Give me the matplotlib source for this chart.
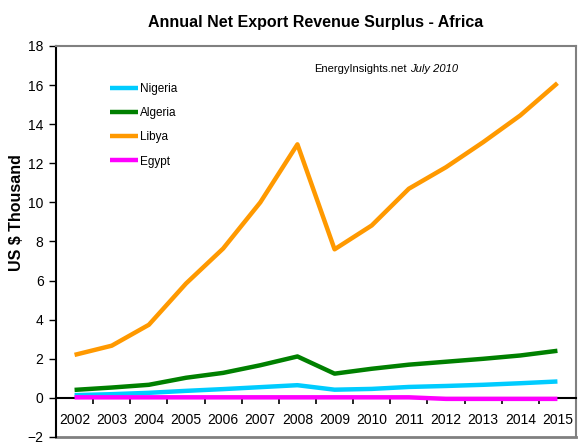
import matplotlib
matplotlib.use("Agg")
import matplotlib.pyplot as plt
import numpy as np

plt.rcParams['font.family'] = ['Liberation Sans', 'DejaVu Sans']

years = ["2002", "2003", "2004", "2005", "2006", "2007", "2008",
         "2009", "2010", "2011", "2012", "2013", "2014", "2015"]
nigeria = [0.14, 0.19, 0.26, 0.36, 0.45, 0.55, 0.65, 0.42, 0.46, 0.56, 0.61, 0.67, 0.75, 0.84]
algeria = [0.41, 0.53, 0.67, 1.03, 1.28, 1.67, 2.12, 1.24, 1.49, 1.70, 1.85, 2.00, 2.17, 2.41]
libya = [2.20, 2.67, 3.74, 5.85, 7.64, 10.0, 12.97, 7.60, 8.82, 10.7, 11.8, 13.08, 14.45, 16.1]
egypt = [0.03, 0.03, 0.03, 0.03, 0.03, 0.03, 0.03, 0.03, 0.03, 0.03, -0.05, -0.05, -0.05, -0.05]

series = [("Nigeria", nigeria, "#00CCFF"),
          ("Algeria", algeria, "#008000"),
          ("Libya", libya, "#FF9900"),
          ("Egypt", egypt, "#FF00FF")]

fig = plt.figure(figsize=(5.86, 4.47), dpi=100)
ax = fig.add_axes([56/586, 10/447, 520/586, 391/447])

x = np.arange(len(years))
for name, vals, col in series:
    ax.plot(x, vals, color=col, lw=3.2, solid_capstyle='butt', label=name, zorder=3)

ax.set_xlim(-0.5, len(years) - 0.5)
ax.set_ylim(-2, 18)
ax.set_yticks(np.arange(-2, 19, 2))
ax.tick_params(axis='y', direction='out', length=5, width=1, labelsize=10, pad=4, colors='black')

# x-axis at zero
ax.spines['bottom'].set_position(('data', 0))
ax.spines['bottom'].set_color('black')
ax.spines['bottom'].set_linewidth(1.5)
ax.spines['left'].set_color('black')
ax.spines['left'].set_linewidth(1.5)
for s in ['top', 'right']:
    ax.spines[s].set_color('#808080')
    ax.spines[s].set_linewidth(1.5)
ax.axhline(-2, color='#808080', lw=2, clip_on=False, zorder=1)

ax.set_xticks(np.arange(-0.5, len(years), 1.0))
ax.set_xticklabels([])
ax.tick_params(axis='x', which='major', direction='out', length=4, width=1.2)
ax.set_xticks(x, minor=True)
ax.set_xticklabels(years, minor=True)
ax.tick_params(axis='x', which='minor', length=0, labelsize=10, pad=11)

ax.set_title("Annual Net Export Revenue Surplus - Africa", fontsize=11.5, fontweight='bold', pad=14)
fig.text(17/586, 1 - 213/447, "US $ Thousand", rotation=90, fontsize=11.5, fontweight='bold',
         ha='center', va='center')

ax.legend(loc='upper left', bbox_to_anchor=(0.104, 0.905), frameon=False, fontsize=8.5,
          handlelength=2.4, handletextpad=0.15, labelspacing=1.03, borderaxespad=0,
          borderpad=0)

fig.text(314/586, 1 - 69/447, "EnergyInsights.net", fontsize=8, va='center', ha='left')
fig.text(410/586, 1 - 69/447, "July 2010", fontsize=8, style='italic', va='center', ha='left')

fig.savefig("out.png", dpi=100)
